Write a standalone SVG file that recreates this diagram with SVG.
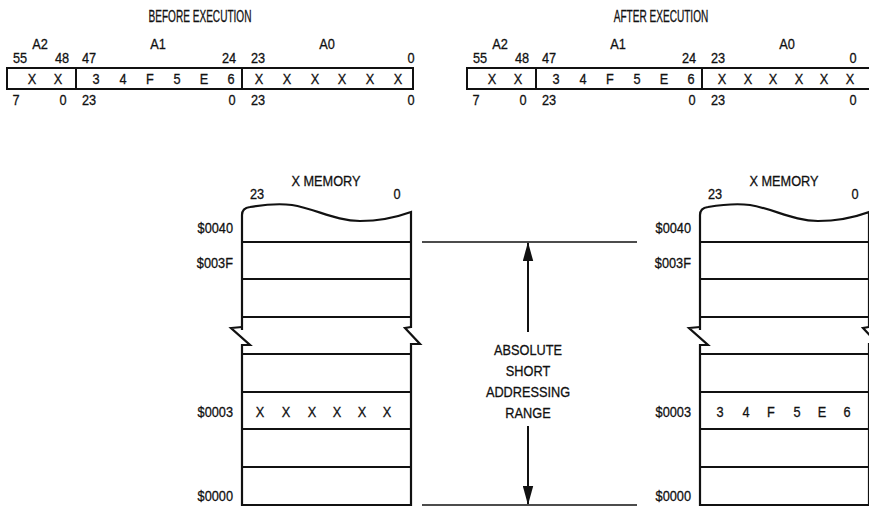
<svg xmlns="http://www.w3.org/2000/svg" width="869" height="506" viewBox="0 0 869 506">
<style>
text{font-family:"Liberation Sans",Arial,sans-serif;font-size:15px;fill:#111;stroke:#111;stroke-width:0.3;text-anchor:middle;transform-box:fill-box;transform-origin:center;transform:scaleX(0.85)}
.t{font-size:16px;transform:scaleX(0.63)}
.r{text-anchor:end;transform-origin:right center}
.box{fill:none;stroke:#111;stroke-width:2}
.mem{fill:none;stroke:#111;stroke-width:2.2;stroke-linejoin:miter}
.ln{stroke:#111;stroke-width:2}
.con{stroke:#111;stroke-width:1.6;fill:none}
.arr{stroke:#111;stroke-width:2;fill:none;marker-end:url(#ah)}
</style>
<defs>
<marker id="ah" viewBox="0 0 20 11" refX="19" refY="5.5" markerWidth="19" markerHeight="11" markerUnits="userSpaceOnUse" orient="auto">
<path d="M0,0 L20,5.5 L0,11 z" fill="#111"/>
</marker>
<g id="regtpl">
<rect class="box" x="7" y="68" width="406" height="21"/>
<line class="ln" x1="76" y1="68" x2="76" y2="89"/>
<line class="ln" x1="242" y1="68" x2="242" y2="89"/>
<text x="40" y="49">A2</text>
<text x="158" y="49">A1</text>
<text x="327" y="49">A0</text>
<text x="20" y="63">55</text>
<text x="62" y="63">48</text>
<text x="89" y="63">47</text>
<text x="229" y="63">24</text>
<text x="258" y="63">23</text>
<text x="32" y="84">X</text>
<text x="58" y="84">X</text>
<text x="96" y="84">3</text>
<text x="123" y="84">4</text>
<text x="150" y="84">F</text>
<text x="177" y="84">5</text>
<text x="204" y="84">E</text>
<text x="231" y="84">6</text>
<text x="16" y="105">7</text>
<text x="63" y="105">0</text>
<text x="89" y="105">23</text>
<text x="232" y="105">0</text>
<text x="258" y="105">23</text>
</g>
<g id="memtpl">
<path class="mem" d="M242,330 L242,215 Q242,208 250,207 C262,205 276,203 292,205 C316,209 336,221 360,221 C384,221 400,216 411,212 L411,328"/>
<path class="mem" d="M242,327 L231,328 L250,345 L242,345 L242,505 L411,505 L411,344 L420,344 L405,328 L411,327"/>
<line class="ln" x1="242" y1="242" x2="411" y2="242"/>
<line class="ln" x1="242" y1="279" x2="411" y2="279"/>
<line class="ln" x1="242" y1="317" x2="411" y2="317"/>
<line class="ln" x1="242" y1="354" x2="411" y2="354"/>
<line class="ln" x1="242" y1="392" x2="411" y2="392"/>
<line class="ln" x1="242" y1="429" x2="411" y2="429"/>
<line class="ln" x1="242" y1="467" x2="411" y2="467"/>
<text x="326" y="186">X MEMORY</text>
<text x="257" y="199">23</text>
<text x="397" y="199">0</text>
<text class="r" x="233" y="233">$0040</text>
<text class="r" x="233" y="268">$003F</text>
<text class="r" x="233" y="417">$0003</text>
<text class="r" x="233" y="501">$0000</text>
</g>
</defs>
<g id="title-before"><text class="t" x="200" y="22">BEFORE EXECUTION</text></g>
<g id="title-after"><text class="t" x="661" y="22">AFTER EXECUTION</text></g>
<g id="register-before">
<use href="#regtpl"/>
<text x="259" y="84">X</text><text x="287" y="84">X</text><text x="315" y="84">X</text><text x="342" y="84">X</text><text x="370" y="84">X</text><text x="398" y="84">X</text>
<text x="411" y="63">0</text>
<text x="411" y="105">0</text>
</g>
<g id="register-after">
<use href="#regtpl" x="460"/>
<text x="722" y="84">X</text><text x="748" y="84">X</text><text x="773" y="84">X</text><text x="799" y="84">X</text><text x="824" y="84">X</text><text x="850" y="84">X</text>
<text x="853" y="63">0</text>
<text x="853" y="105">0</text>
</g>
<g id="memory-before">
<use href="#memtpl"/>
<text x="260" y="417">X</text><text x="286" y="417">X</text><text x="312" y="417">X</text><text x="337" y="417">X</text><text x="362" y="417">X</text><text x="387" y="417">X</text>
</g>
<g id="memory-after">
<use href="#memtpl" x="458"/>
<text x="720" y="417">3</text><text x="746" y="417">4</text><text x="771" y="417">F</text><text x="797" y="417">5</text><text x="822" y="417">E</text><text x="847" y="417">6</text>
</g>
<g id="range-label">
<text x="528" y="355">ABSOLUTE</text>
<text x="528" y="376">SHORT</text>
<text x="528" y="397">ADDRESSING</text>
<text x="528" y="418">RANGE</text>
</g>
<g id="connectors">
<line class="con" x1="422" y1="242" x2="637" y2="242"/>
<line class="con" x1="422" y1="505" x2="637" y2="505"/>
<line class="arr" x1="528" y1="332" x2="528" y2="243"/>
<line class="arr" x1="528" y1="426" x2="528" y2="504"/>
</g>
</svg>
